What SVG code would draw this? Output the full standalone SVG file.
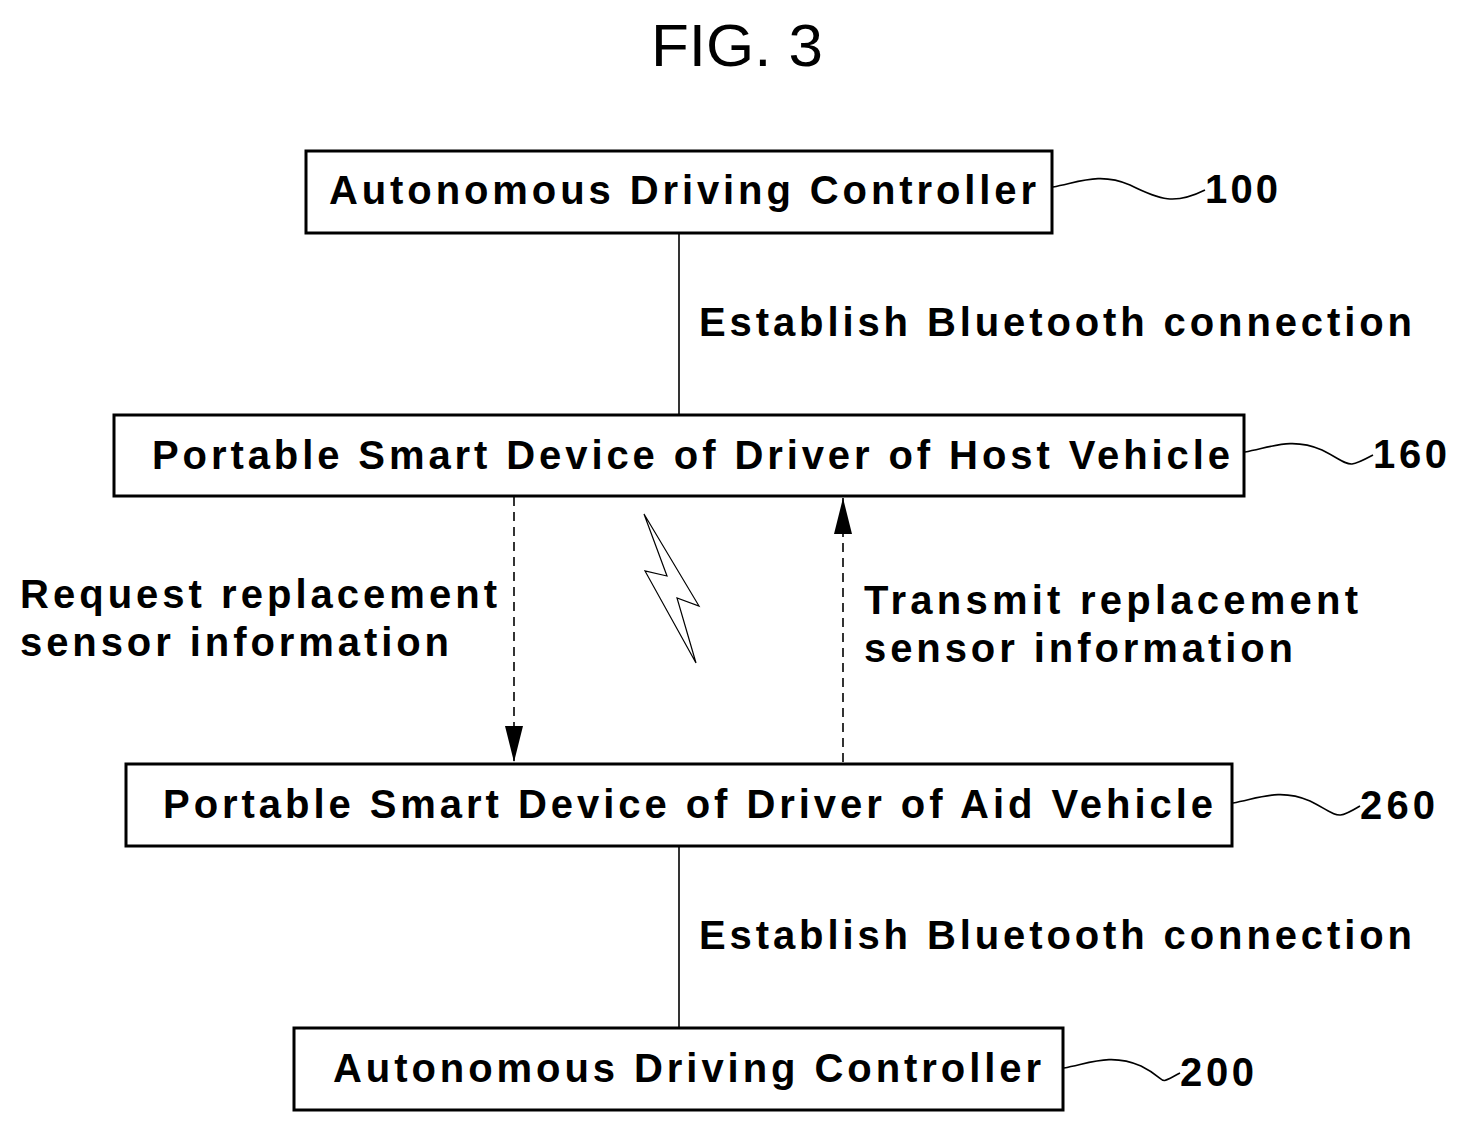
<svg xmlns="http://www.w3.org/2000/svg" width="1467" height="1133" viewBox="0 0 1467 1133">
<style>
.box{fill:#fff;stroke:#000;stroke-width:3}
.t{font-family:"Liberation Sans",Arial,sans-serif;font-weight:bold;font-size:40px;fill:#000}
.w{fill:none;stroke:#000;stroke-width:1.6}
.c{stroke:#000;stroke-width:1.6;fill:none}
.d{stroke:#000;stroke-width:1.6;fill:none;stroke-dasharray:9,6}
</style>
<defs>
<marker id="ah" markerWidth="36" markerHeight="18" refX="36" refY="9" orient="auto" markerUnits="userSpaceOnUse" viewBox="0 0 36 18"><path d="M0,0 L36,9 L0,18 Z" fill="#000"/></marker></defs>
<text x="737" y="66" text-anchor="middle" font-family="Liberation Sans,Arial,sans-serif" font-size="60" textLength="172" lengthAdjust="spacingAndGlyphs">FIG. 3</text>
<g id="n100"><rect class="box" x="306" y="151" width="746" height="82"/><text class="t" x="329" y="204" textLength="707" lengthAdjust="spacing">Autonomous Driving Controller</text><path class="w" d="M1053,187 C1080,182 1100,172 1130,185 C1160,200 1175,205 1205,190"/><text class="t" x="1205" y="203" textLength="73" lengthAdjust="spacing">100</text></g>
<g id="n160"><rect class="box" x="114" y="415" width="1130" height="81"/><text class="t" x="152" y="469" textLength="1078" lengthAdjust="spacing">Portable Smart Device of Driver of Host Vehicle</text><path class="w" d="M1245,452 C1272,447 1292,437 1322,450 C1352,465 1345,470 1373,455"/><text class="t" x="1373" y="468" textLength="74" lengthAdjust="spacing">160</text></g>
<g id="n260"><rect class="box" x="126" y="764" width="1106" height="82"/><text class="t" x="163" y="818" textLength="1050" lengthAdjust="spacing">Portable Smart Device of Driver of Aid Vehicle</text><path class="w" d="M1233,803 C1260,798 1280,788 1310,801 C1340,816 1335,821 1360,806"/><text class="t" x="1360" y="819" textLength="75" lengthAdjust="spacing">260</text></g>
<g id="n200"><rect class="box" x="294" y="1028" width="769" height="82"/><text class="t" x="333" y="1082" textLength="708" lengthAdjust="spacing">Autonomous Driving Controller</text><path class="w" d="M1064,1068 C1091,1063 1111,1053 1141,1066 C1171,1081 1155,1086 1180,1073"/><text class="t" x="1180" y="1086" textLength="74" lengthAdjust="spacing">200</text></g>
<g id="connectors">
<line class="c" x1="679" y1="233" x2="679" y2="415"/>
<line class="c" x1="679" y1="846" x2="679" y2="1028"/>
<line class="d" x1="514" y1="497" x2="514" y2="762" marker-end="url(#ah)"/>
<line class="d" x1="843" y1="762" x2="843" y2="498" marker-end="url(#ah)"/>
<polygon points="644,514 699,606 677,598 696,663 645,571 667,576" fill="#fff" stroke="#000" stroke-width="1.2"/>
</g>
<g id="labels">
<text class="t" x="699" y="336" textLength="713" lengthAdjust="spacing">Establish Bluetooth connection</text>
<text class="t" x="699" y="949" textLength="713" lengthAdjust="spacing">Establish Bluetooth connection</text>
<text class="t" x="20" y="608" textLength="477" lengthAdjust="spacing">Request replacement</text>
<text class="t" x="20" y="656" textLength="429" lengthAdjust="spacing">sensor information</text>
<text class="t" x="864" y="614" textLength="494" lengthAdjust="spacing">Transmit replacement</text>
<text class="t" x="864" y="662" textLength="429" lengthAdjust="spacing">sensor information</text>
</g>
</svg>
